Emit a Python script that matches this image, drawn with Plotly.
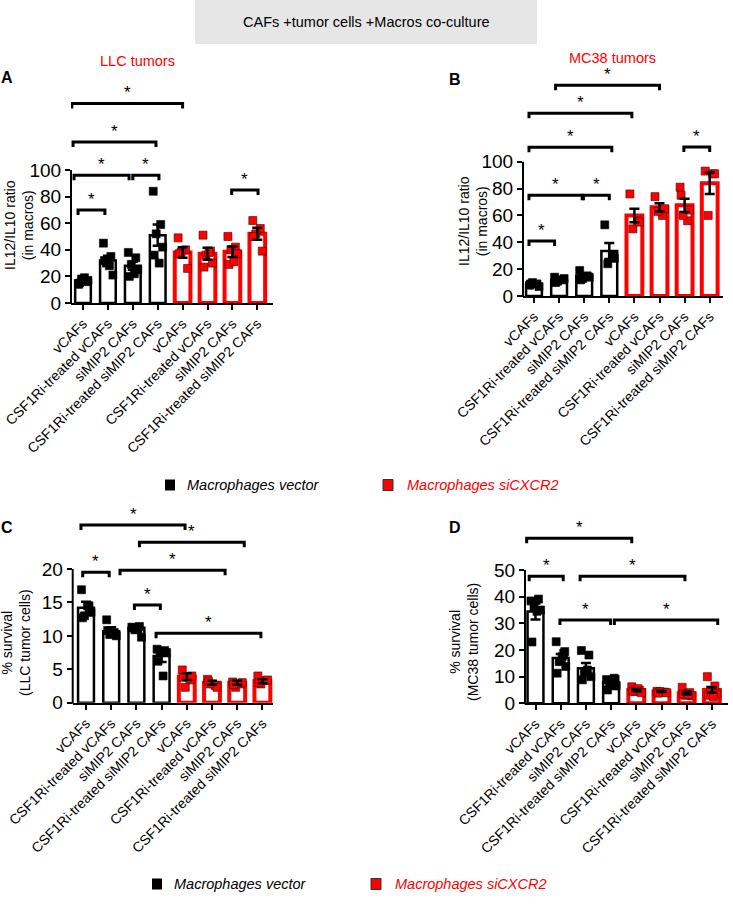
import plotly.graph_objects as go

W, H = 733, 904
FONT = "Liberation Sans, Arial, sans-serif"

# ---------------- data ----------------
CATEGORIES = ["vCAFs", "CSF1Ri-treated vCAFs", "siMIP2 CAFs", "CSF1Ri-treated siMIP2 CAFs",
              "vCAFs", "CSF1Ri-treated vCAFs", "siMIP2 CAFs", "CSF1Ri-treated siMIP2 CAFs"]
POSITIONS = [0, 1, 2, 3, 4, 5, 6, 7]
GROUP_IS_RED = [False, False, False, False, True, True, True, True]

A_MEANS = [17, 32, 28, 51, 38, 37, 38.5, 52]
A_SEM = [1.2, 3.5, 3.0, 8.0, 4.0, 4.5, 4.0, 4.5]
A_POINTS = [
    [14, 16, 18, 17, 15, 19],
    [45, 35, 30, 21, 32, 28],
    [38, 34, 29, 25, 20, 22],
    [84, 59, 52, 42, 36, 30],
    [49, 40, 38, 26, 37],
    [51, 39, 36, 30, 27, 38],
    [50, 42, 40, 37, 29, 31],
    [62, 56, 52, 39, 50],
]
A_BRACKETS = [(-0.2, 0.88, 70), (-0.36, 1.85, 96), (2.0, 3.05, 96),
              (-0.4, 2.93, 121), (-0.45, 4.0, 150), (5.97, 7.03, 85)]

B_MEANS = [9, 12, 15, 33.5, 60, 66, 67.5, 84]
B_SEM = [1.0, 1.0, 1.5, 6.0, 5.0, 3.0, 5.0, 8.0]
B_POINTS = [
    [8, 9, 10, 7, 9],
    [14, 12, 11, 13, 10],
    [19, 15, 13, 14, 12],
    [53, 30, 24, 28],
    [76, 56, 50, 55],
    [74, 60, 63, 65],
    [81, 56, 60, 64, 75],
    [93, 91, 60, 91],
]
B_BRACKETS = [(-0.2, 0.82, 41), (-0.2, 1.92, 75), (1.97, 3.0, 75),
              (-0.2, 3.1, 110.7), (-0.2, 3.9, 136), (0.86, 5.0, 157), (5.97, 7.0, 111)]

C_MEANS = [14.2, 10.7, 11.2, 7.0, 3.9, 3.0, 3.0, 3.2]
C_SEM = [0.9, 0.6, 0.3, 0.9, 0.5, 0.3, 0.3, 0.3]
C_POINTS = [
    [16.9, 14.5, 13.0, 13.5, 12.7, 14.5],
    [12.4, 10.5, 10.2, 10.0, 10.8, 10.3],
    [11.3, 11.4, 10.9, 9.8, 11.2, 11.0],
    [8.0, 7.8, 7.6, 7.5, 6.2, 4.0],
    [4.9, 3.4, 2.3, 4.0, 3.8],
    [3.5, 2.6, 2.8, 2.3, 3.2],
    [3.1, 2.8, 2.3, 3.0, 2.7],
    [4.0, 3.3, 2.8, 3.4, 3.0],
]
C_BRACKETS = [(-0.13, 0.92, 19.5), (1.92, 2.95, 14.6), (1.35, 5.52, 19.8),
              (2.12, 6.28, 24.0), (-0.2, 3.93, 26.6), (2.78, 6.94, 10.4)]

D_MEANS = [34.4, 17.0, 13.1, 7.9, 5.0, 4.4, 3.8, 5.0]
D_SEM = [3.0, 1.5, 2.0, 0.7, 0.4, 0.2, 0.5, 1.0]
D_POINTS = [
    [38.4, 39.1, 36, 35, 23, 34.5],
    [23.1, 18.8, 15.6, 13.8, 11.3, 17.5, 19.4],
    [19.8, 18.1, 11.3, 10, 8.8, 12.5],
    [8.9, 9.4, 7.5, 6.5, 5.0, 6.8, 9.0],
    [6.2, 5.0, 4.4, 4.0, 4.6, 5.5],
    [4.5, 4.2, 4.4, 4.0, 3.8],
    [6.0, 4.0, 3.0, 2.8, 3.5, 3.2],
    [10.0, 6.5, 5.0, 3.5, 3.0, 2.5],
]
D_BRACKETS = [(-0.35, 3.82, 61.9), (-0.25, 1.1, 47.7), (1.77, 5.93, 47.7),
              (0.97, 2.98, 31.2), (3.13, 7.23, 31.2)]

A_TICKS = [0, 20, 40, 60, 80, 100]
B_TICKS = [0, 20, 40, 60, 80, 100]
C_TICKS = [0, 5, 10, 15, 20]
D_TICKS = [0, 10, 20, 30, 40, 50]

# ---------------- style / geometry ----------------
JITTER = [-0.18, 0.12, -0.06, 0.2, -0.14, 0.06, 0.16]
BLACK = "#000000"
RED = "#ff0000"

PANELS = [
    dict(means=A_MEANS, sem=A_SEM, pts=A_POINTS, br=A_BRACKETS, ticks=A_TICKS,
         left=71, right=273, c0=83, sp=24.9, y0=303, scale=1.33, top=165,
         title="IL12/IL10 ratio<br>(in macros)", tx=19, ty=225,
         letter="A", lx=7, ly=77),
    dict(means=B_MEANS, sem=B_SEM, pts=B_POINTS, br=B_BRACKETS, ticks=B_TICKS,
         left=523, right=723, c0=534, sp=25.1, y0=296, scale=1.343, top=165,
         title="IL12/IL10 ratio<br>(in macros)", tx=473, ty=221,
         letter="B", lx=455, ly=79),
    dict(means=C_MEANS, sem=C_SEM, pts=C_POINTS, br=C_BRACKETS, ticks=C_TICKS,
         left=72.7, right=273, c0=86, sp=25.2, y0=702.7, scale=6.685, top=28,
         title="% survival<br>(LLC tumor cells)", tx=16, ty=643,
         letter="C", lx=7, ly=527),
    dict(means=D_MEANS, sem=D_SEM, pts=D_POINTS, br=D_BRACKETS, ticks=D_TICKS,
         left=525, right=728, c0=535.5, sp=25.2, y0=703.3, scale=2.666, top=66,
         title="% survival<br>(MC38 tumor cells)", tx=464, ty=642,
         letter="D", lx=455, ly=527),
]


def px_x(x):
    return x / W


def px_y(y):
    return 1 - y / H


def paper_text(x, y, text, size, color, **kw):
    d = dict(x=px_x(x), y=px_y(y), xref="paper", yref="paper", text=text,
             showarrow=False, xanchor="center", yanchor="middle",
             font=dict(family=FONT, size=size, color=color))
    d.update(kw)
    return d


fig = go.Figure()
shapes = []
annotations = []
layout_axes = {}

for k, P in enumerate(PANELS, start=1):
    xa = "x" if k == 1 else f"x{k}"
    ya = "y" if k == 1 else f"y{k}"
    xname = "xaxis" if k == 1 else f"xaxis{k}"
    yname = "yaxis" if k == 1 else f"yaxis{k}"

    ytop_px = P["y0"] - P["scale"] * P["top"]
    xr = [(P["left"] - P["c0"]) / P["sp"], (P["right"] - P["c0"]) / P["sp"]]

    layout_axes[xname] = dict(
        domain=[px_x(P["left"]), px_x(P["right"])], range=xr, anchor=ya,
        tickmode="array", tickvals=POSITIONS, ticktext=CATEGORIES, tickangle=-45,
        ticks="outside", ticklen=5, tickwidth=2, tickcolor=BLACK,
        showline=True, linewidth=2, linecolor=BLACK, showgrid=False, zeroline=False,
        tickfont=dict(family=FONT, size=14, color=BLACK), fixedrange=True,
        automargin=False,
    )
    layout_axes[yname] = dict(
        domain=[px_y(P["y0"]), px_y(ytop_px)], range=[0, P["top"]], anchor=xa,
        tickmode="array", tickvals=P["ticks"], ticktext=[str(t) for t in P["ticks"]],
        ticks="outside", ticklen=5, tickwidth=2, tickcolor=BLACK,
        showline=False, showgrid=False, zeroline=False,
        tickfont=dict(family=FONT, size=19, color=BLACK), fixedrange=True,
        automargin=False,
    )

    # bars
    fig.add_trace(go.Bar(
        x=POSITIONS, y=P["means"], width=0.63, xaxis=xa, yaxis=ya,
        marker=dict(color="white",
                    line=dict(color=[RED if r else BLACK for r in GROUP_IS_RED],
                              width=[4 if r else 2.5 for r in GROUP_IS_RED])),
        showlegend=False, hoverinfo="skip",
    ))
    # points
    for i, vals in enumerate(P["pts"]):
        red = GROUP_IS_RED[i]
        fig.add_trace(go.Scatter(
            x=[POSITIONS[i] + JITTER[j] for j in range(len(vals))], y=vals,
            mode="markers", xaxis=xa, yaxis=ya, cliponaxis=False,
            marker=dict(symbol="square", size=8, color=RED if red else BLACK,
                        line=dict(color="#400000" if red else BLACK, width=0.6)),
            showlegend=False, hoverinfo="skip",
        ))
    # error bars
    fig.add_trace(go.Scatter(
        x=POSITIONS, y=P["means"], mode="markers", xaxis=xa, yaxis=ya,
        marker=dict(size=1, color="rgba(0,0,0,0)"),
        error_y=dict(type="data", array=P["sem"], symmetric=True,
                     color=BLACK, thickness=2.5, width=5),
        showlegend=False, hoverinfo="skip",
    ))

    # y axis line only up to the highest tick
    shapes.append(dict(type="line", xref="paper", yref="paper",
                       x0=px_x(P["left"]), x1=px_x(P["left"]),
                       y0=px_y(P["y0"] + 1), y1=px_y(P["y0"] - P["scale"] * P["ticks"][-1]),
                       line=dict(color=BLACK, width=2)))

    # significance brackets
    t = 5 / P["scale"]
    for a, b, h in P["br"]:
        shapes.append(dict(type="path", xref=xa, yref=ya,
                           path=f"M {a},{h - t} L {a},{h} L {b},{h} L {b},{h - t}",
                           line=dict(color=BLACK, width=3)))
        annotations.append(dict(x=(a + b) / 2, y=h, xref=xa, yref=ya, text="*",
                                showarrow=False, xanchor="center", yanchor="bottom", yshift=-1,
                                font=dict(family=FONT, size=17, color=BLACK)))

    # axis title
    annotations.append(paper_text(P["tx"], P["ty"], P["title"], 14, BLACK, textangle=-90))
    # panel letter
    annotations.append(paper_text(P["lx"], P["ly"], f"<b>{P['letter']}</b>", 16, BLACK))

# title box
shapes.append(dict(type="rect", xref="paper", yref="paper", layer="below",
                   x0=px_x(195), x1=px_x(537), y0=px_y(44), y1=px_y(0),
                   fillcolor="#e6e6e6", line=dict(width=0)))
annotations.append(paper_text(366, 22, "CAFs +tumor cells +Macros co-culture", 14.5, BLACK))
annotations.append(paper_text(137, 61, "LLC tumors", 14.5, RED))
annotations.append(paper_text(612, 58, "MC38 tumors", 14.5, RED))

# legends
LEGENDS = [(170, 388, 485), (157, 376, 884)]
for bx, rx, ly in LEGENDS:
    shapes.append(dict(type="rect", xref="paper", yref="paper",
                       x0=px_x(bx - 5), x1=px_x(bx + 5), y0=px_y(ly + 5.5), y1=px_y(ly - 5.5),
                       fillcolor=BLACK, line=dict(width=0)))
    shapes.append(dict(type="rect", xref="paper", yref="paper",
                       x0=px_x(rx - 5), x1=px_x(rx + 5), y0=px_y(ly + 5.5), y1=px_y(ly - 5.5),
                       fillcolor=RED, line=dict(color="#333333", width=1)))
    annotations.append(paper_text(bx + 15, ly, "<i>Macrophages vector</i>", 14.5, BLACK,
                                  xanchor="left"))
    annotations.append(paper_text(rx + 17, ly, "<i>Macrophages siCXCR2</i>", 14.5, RED,
                                  xanchor="left"))

fig.update_layout(
    width=W, height=H, autosize=False,
    margin=dict(l=0, r=0, t=0, b=0, pad=0, autoexpand=False),
    paper_bgcolor="white", plot_bgcolor="white",
    showlegend=False, barmode="overlay",
    shapes=shapes, annotations=annotations,
    font=dict(family=FONT, color=BLACK),
    **layout_axes,
)

fig.write_html("out.html", config={"displayModeBar": False},
               post_script="document.body.style.margin='0';document.body.style.overflow='hidden';")
